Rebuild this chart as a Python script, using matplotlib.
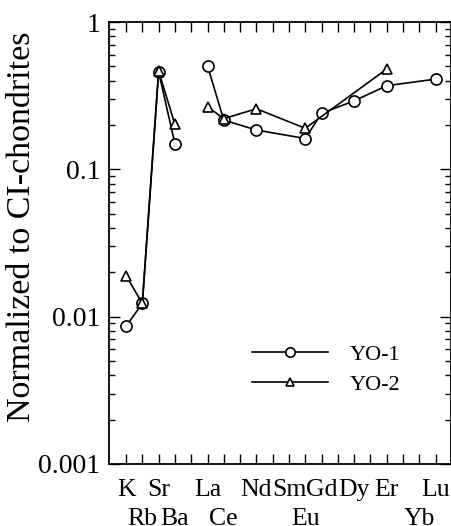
import numpy as np
import matplotlib.pyplot as plt

plt.rcParams['font.family'] = ['Liberation Serif', 'DejaVu Serif']

# element slots along the x axis (blank slots carry no label)
slots = ["K", "Rb", "Sr", "Ba", "", "La", "Ce", "Pr", "Nd", "Pm", "Sm",
         "Eu", "Gd", "Tb", "Dy", "Ho", "Er", "Tm", "Yb", "Lu"]
lower_row = ["Rb", "Ba", "Ce", "Eu", "Yb"]
shown = ["K", "Rb", "Sr", "Ba", "La", "Ce", "Nd", "Sm", "Eu", "Gd", "Dy", "Er", "Yb", "Lu"]

# YO-1 (circles)
yo1_alk = ["K", "Rb", "Sr", "Ba"]
yo1_alk_val = [0.0086, 0.0123, 0.46, 0.149]
yo1_ree = ["La", "Ce", "Nd", "Eu", "Gd", "Dy", "Er", "Lu"]
yo1_ree_val = [0.505, 0.216, 0.185, 0.162, 0.24, 0.292, 0.37, 0.41]

# YO-2 (triangles)
yo2_alk = ["K", "Rb", "Sr", "Ba"]
yo2_alk_val = [0.019, 0.0123, 0.465, 0.202]
yo2_ree = ["La", "Ce", "Nd", "Eu", "Er"]
yo2_ree_val = [0.266, 0.221, 0.258, 0.19, 0.48]


def pos(names):
    return [slots.index(n) for n in names]


fig = plt.figure(figsize=(4.52, 5.26), dpi=100)
ax = fig.add_axes([0.241, 0.118, 0.757, 0.840])

style1 = dict(color="black", lw=1.2, marker="o", ms=8, mfc="white", mec="black", mew=1.2)
style2 = dict(color="black", lw=1.2, marker="^", ms=7.5, mfc="white", mec="black", mew=1.2)

ax.plot(pos(yo1_alk), yo1_alk_val, zorder=3, **style1)
l1, = ax.plot(pos(yo1_ree), yo1_ree_val, zorder=3, **style1)
ax.plot(pos(yo2_alk), yo2_alk_val, zorder=4, **style2)
l2, = ax.plot(pos(yo2_ree), yo2_ree_val, zorder=4, **style2)

ax.set_yscale("log")
ax.set_ylim(0.001, 1)
ax.set_xlim(-1.05, 19.95)
ax.set_yticks([0.001, 0.01, 0.1, 1])
ax.set_yticklabels(["0.001", "0.01", "0.1", "1"])

labels = []
for s in slots:
    if s not in shown:
        labels.append("")
    elif s in lower_row:
        labels.append("\n" + s)
    else:
        labels.append(s)
ax.set_xticks(range(len(slots)))
ax.set_xticklabels(labels, fontsize=18.5, linespacing=1.4)

ax.tick_params(axis="both", which="both", direction="in", top=True, right=True, width=1.0)
ax.tick_params(axis="y", which="major", length=8, labelsize=20, pad=6)
ax.tick_params(axis="y", which="minor", length=4)
ax.tick_params(axis="x", which="major", length=7, pad=11)
for sp in ax.spines.values():
    sp.set_linewidth(1.3)

ax.set_ylabel("Normalized to CI-chondrites", fontsize=24.5)
ax.yaxis.set_label_coords(-0.21, 0.536)

fig.legend([l1, l2], ["YO-1", "YO-2"], loc="center left",
           bbox_to_anchor=(252 / 452, 1 - 369.5 / 526), frameon=False,
           fontsize=16, handlelength=3.4, handletextpad=1.0, labelspacing=0.45,
           borderpad=0, borderaxespad=0, numpoints=1, markerscale=0.85)

fig.savefig("out.png", dpi=100)
